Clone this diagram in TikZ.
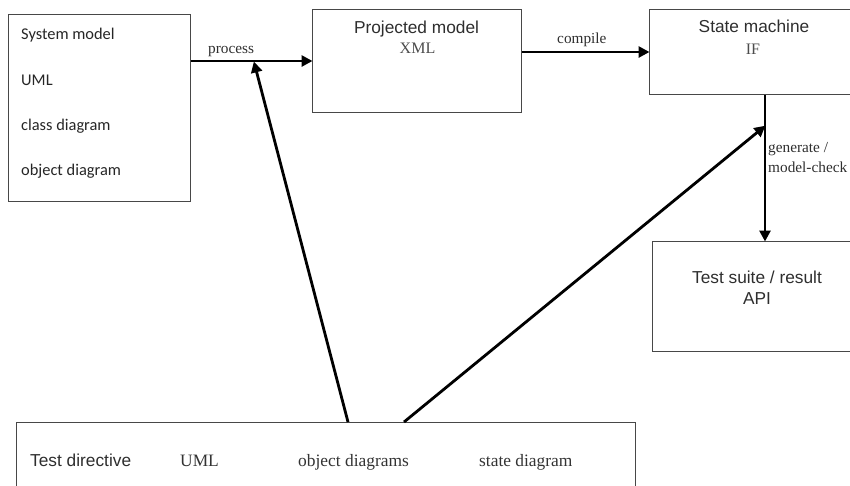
\documentclass[tikz,border=0pt]{standalone}
\usepackage{fontspec}
\setmainfont{Liberation Serif}
\newfontfamily\arialfont{Liberation Sans}
\newfontfamily\calfont{Carlito}
\usetikzlibrary{arrows.meta}

\tikzset{
  box/.style={draw=black!72, line width=1.3pt, fill=none, inner sep=0pt, anchor=north west},
  flow/.style={draw=black, line width=2.8pt, -{Triangle[length=11pt,width=11pt]}, shorten >=-0.5pt},
  sanslbl/.style={inner sep=0pt, text=black!82, font=\arialfont\fontsize{17.3}{20}\selectfont},
  callbl/.style={inner sep=0pt, anchor=base west, text=black!85, font=\calfont\fontsize{16.4}{19}\selectfont},
  serifbig/.style={inner sep=0pt, anchor=base west, text=black!80, font=\fontsize{17.4}{20}\selectfont},
  seriftag/.style={inner sep=0pt, text=black!70, font=\fontsize{16}{19}\selectfont},
  edgelbl/.style={inner sep=0pt, anchor=base west, text=black!82, font=\fontsize{15.3}{18}\selectfont},
}

\begin{document}
\begin{tikzpicture}[x=1pt, y=-1pt]
\useasboundingbox (0,0) rectangle (850,485);
\clip (0,0) rectangle (850,485);

% boxes
\node[box, minimum width=182pt, minimum height=187pt] (sys)   at (8,14)   {};
\node[box, minimum width=209pt, minimum height=103pt] (proj)  at (312,9)  {};
\node[box, minimum width=220pt, minimum height=85pt]  (sm)    at (649,9)  {};
\node[box, minimum width=220pt, minimum height=110pt] (suite) at (652,241) {};
\node[box, minimum width=619pt, minimum height=90pt]  (dir)   at (16,422) {};

% texts of the system model box
\node[callbl] (t1) at (21,39)  {System model};
\node[callbl] (t2) at (21,85)  {UML};
\node[callbl] (t3) at (21,130) {class diagram};
\node[callbl] (t4) at (21,175) {object diagram};

% projected model
\node[sanslbl, anchor=base] (t5) at (416.5,33) {Projected model};
\node[seriftag, anchor=base] (t6) at (417.5,53) {XML};

% state machine
\node[sanslbl, anchor=base] (t7) at (754,32) {State machine};
\node[seriftag, anchor=base] (t8) at (753,54) {IF};

% test suite
\node[sanslbl, anchor=base] (t9)  at (757,283) {Test suite / result};
\node[sanslbl, anchor=base] (t10) at (757,304) {API};

% test directive row
\node[sanslbl, anchor=base west] (t11) at (30,466)  {Test directive};
\node[serifbig] (t12) at (180,466) {UML};
\node[serifbig] (t13) at (298,466) {object diagrams};
\node[serifbig] (t14) at (479,466) {state diagram};

% connector labels
\node[edgelbl] (l1) at (208,53)  {process};
\node[edgelbl] (l2) at (557,43)  {compile};
\node[edgelbl] (l3) at (768,152) {generate /};
\node[edgelbl] (l4) at (768,172) {model-check};

% connector helper points
\coordinate (yproc) at (0,61);
\coordinate (ycomp) at (0,52);
\coordinate (xgen)  at (765,0);
\coordinate (tipA)  at (254,62);
\coordinate (tipB)  at (765,126);
\coordinate (xA)    at (348,0);
\coordinate (xB)    at (404,0);

% connectors
\draw[flow] (sys.east |- yproc) -- (proj.west |- yproc);
\draw[flow] (proj.east |- ycomp) -- (sm.west |- ycomp);
\draw[flow] (sm.south -| xgen) -- (suite.north -| xgen);
\draw[flow] (dir.north -| xA) -- (tipA);
\draw[flow] (dir.north -| xB) -- (tipB);
\end{tikzpicture}
\end{document}
